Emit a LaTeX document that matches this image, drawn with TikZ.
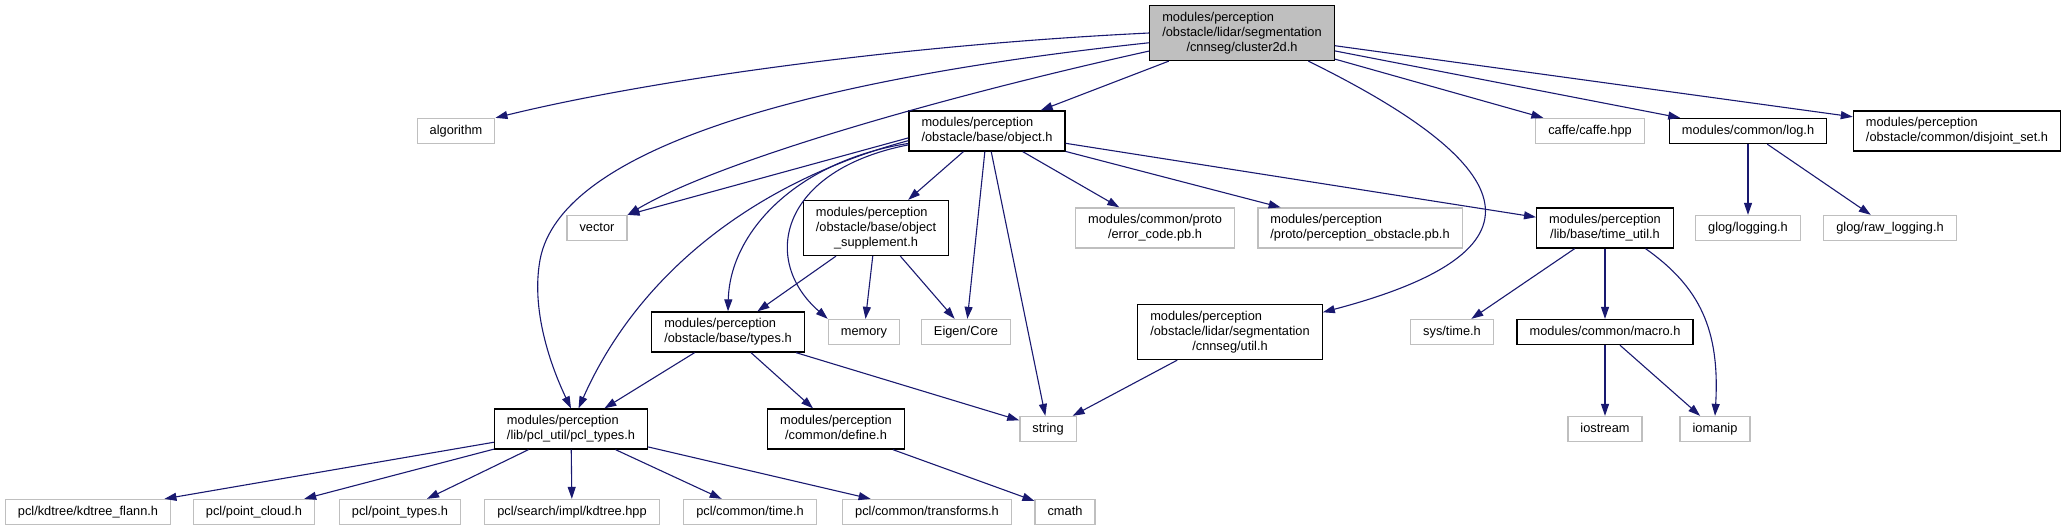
\documentclass[tikz,border=0pt]{standalone}
\usepackage{fontspec}
\setmainfont{Liberation Sans}
\usepackage{tikz}
\usetikzlibrary{arrows.meta}
\definecolor{edgeblue}{RGB}{25,25,112}
\definecolor{extgray}{RGB}{191,191,191}
\definecolor{mainfill}{RGB}{191,191,191}
% label: left-aligned lines, last line centred
\newcommand{\flbl}[2]{\begin{tabular}{@{}l@{}}#1\\\multicolumn{1}{@{}c@{}}{#2}\end{tabular}}
\newcommand{\slbl}[1]{\begin{tabular}{@{}c@{}}#1\end{tabular}}
\tikzset{
  docbox/.style={rectangle, draw=black, fill=white, line width=1.3pt,
    inner xsep=12.5pt, inner ysep=5pt, font=\fontsize{12.8pt}{15pt}\selectfont},
  extbox/.style={docbox, draw=extgray},
  mainbox/.style={docbox, fill=mainfill},
  arrow/.style={-{Triangle[length=12pt,width=8pt]}, line width=1.1pt, color=edgeblue}
}

\begin{document}
\begin{tikzpicture}[x=1pt, y=-1pt]
  \useasboundingbox (0,0) rectangle (2067,531);
  % top file
  \node[mainbox] (cluster) at (1242,33) {\flbl{modules/perception\\/obstacle/lidar/segmentation}{/cnnseg/cluster2d.h}};
  % second row
  \node[extbox] (algo) at (456,131) {\slbl{algorithm}};
  \node[docbox] (objh) at (987,131) {\flbl{modules/perception}{/obstacle/base/object.h}};
  \node[extbox] (caffe) at (1590,131) {\slbl{caffe/caffe.hpp}};
  \node[docbox] (logh) at (1748,131) {\slbl{modules/common/log.h}};
  \node[docbox] (djset) at (1957,131) {\flbl{modules/perception}{/obstacle/common/disjoint\_set.h}};
  % third row
  \node[extbox] (vec) at (597,228) {\slbl{vector}};
  \node[docbox] (objsupp) at (876,228) {\flbl{modules/perception\\/obstacle/base/object}{\_supplement.h}};
  \node[extbox] (errcode) at (1155,228) {\flbl{modules/common/proto}{/error\_code.pb.h}};
  \node[extbox] (percobs) at (1360,228) {\flbl{modules/perception}{/proto/perception\_obstacle.pb.h}};
  \node[docbox] (timeutil) at (1605,228) {\flbl{modules/perception}{/lib/base/time\_util.h}};
  \node[extbox] (glogging) at (1748,228) {\slbl{glog/logging.h}};
  \node[extbox] (grawlog) at (1890,228) {\slbl{glog/raw\_logging.h}};
  % fourth row
  \node[docbox] (typesh) at (728,332) {\flbl{modules/perception}{/obstacle/base/types.h}};
  \node[extbox] (memory) at (864,332) {\slbl{memory}};
  \node[extbox] (eigen) at (966,332) {\slbl{Eigen/Core}};
  \node[docbox] (utilh) at (1230,332) {\flbl{modules/perception\\/obstacle/lidar/segmentation}{/cnnseg/util.h}};
  \node[extbox] (systime) at (1452,332) {\slbl{sys/time.h}};
  \node[docbox] (macroh) at (1605,332) {\slbl{modules/common/macro.h}};
  % fifth row
  \node[docbox] (pcltypes) at (571,429) {\flbl{modules/perception}{/lib/pcl\_util/pcl\_types.h}};
  \node[docbox] (defineh) at (836,429) {\flbl{modules/perception}{/common/define.h}};
  \node[extbox] (str) at (1048,429) {\slbl{string}};
  \node[extbox] (iostr) at (1605,429) {\slbl{iostream}};
  \node[extbox] (iomanip) at (1715,429) {\slbl{iomanip}};
  % bottom row
  \node[extbox] (kdflann) at (88,512) {\slbl{pcl/kdtree/kdtree\_flann.h}};
  \node[extbox] (ptcloud) at (254,512) {\slbl{pcl/point\_cloud.h}};
  \node[extbox] (pttypes) at (400,512) {\slbl{pcl/point\_types.h}};
  \node[extbox] (kdsearch) at (572,512) {\slbl{pcl/search/impl/kdtree.hpp}};
  \node[extbox] (pcltime) at (750,512) {\slbl{pcl/common/time.h}};
  \node[extbox] (pcltrans) at (927,512) {\slbl{pcl/common/transforms.h}};
  \node[extbox] (cmath) at (1065,512) {\slbl{cmath}};

  % includes of cluster2d.h
  \draw[arrow] (cluster.west) .. controls (900,45) and (650,80) .. (algo.north east);
  \draw[arrow] (cluster.191) .. controls (950,95) and (720,160) .. (vec.north east);
  \draw[arrow] (cluster.186) .. controls (800,80) and (560,150) .. (540,260)
                .. controls (530,315) and (555,375) .. (pcltypes.north);
  \draw[arrow] (cluster) -- (objh);
  \draw[arrow] (cluster.-23) .. controls (1540,175) and (1540,255) .. (utilh.12);
  \draw[arrow] (cluster) -- (caffe);
  \draw[arrow] (cluster) -- (logh);
  \draw[arrow] (cluster) -- (djset);
  % includes of object.h
  \draw[arrow] (objh.185) -- (vec.north east);
  \draw[arrow] (objh.187) .. controls (760,180) and (640,270) .. (pcltypes.70);
  \draw[arrow] (objh.189) .. controls (800,160) and (730,230) .. (typesh.north);
  \draw[arrow] (objh.190) .. controls (780,170) and (760,260) .. (memory.north west);
  \draw[arrow] (objh) -- (objsupp);
  \draw[arrow] (objh) -- (eigen);
  \draw[arrow] (objh) -- (str);
  \draw[arrow] (objh) -- (errcode);
  \draw[arrow] (objh) -- (percobs);
  \draw[arrow] (objh) -- (timeutil);
  % object_supplement.h
  \draw[arrow] (objsupp) -- (typesh);
  \draw[arrow] (objsupp) -- (memory);
  \draw[arrow] (objsupp) -- (eigen);
  % types.h, util.h, define.h
  \draw[arrow] (typesh) -- (pcltypes);
  \draw[arrow] (typesh) -- (defineh);
  \draw[arrow] (typesh) -- (str);
  \draw[arrow] (utilh) -- (str);
  \draw[arrow] (defineh) -- (cmath);
  % pcl_types.h
  \foreach \dst in {kdflann, ptcloud, pttypes, kdsearch, pcltime, pcltrans}
    \draw[arrow] (pcltypes) -- (\dst);
  % log.h
  \draw[arrow] (logh) -- (glogging);
  \draw[arrow] (logh) -- (grawlog);
  % time_util.h and macro.h
  \draw[arrow] (timeutil) -- (systime);
  \draw[arrow] (timeutil) -- (macroh);
  \draw[arrow] (timeutil.-27) .. controls (1700,287) and (1720,330) .. (iomanip.north);
  \draw[arrow] (macroh) -- (iostr);
  \draw[arrow] (macroh) -- (iomanip);
\end{tikzpicture}
\end{document}
